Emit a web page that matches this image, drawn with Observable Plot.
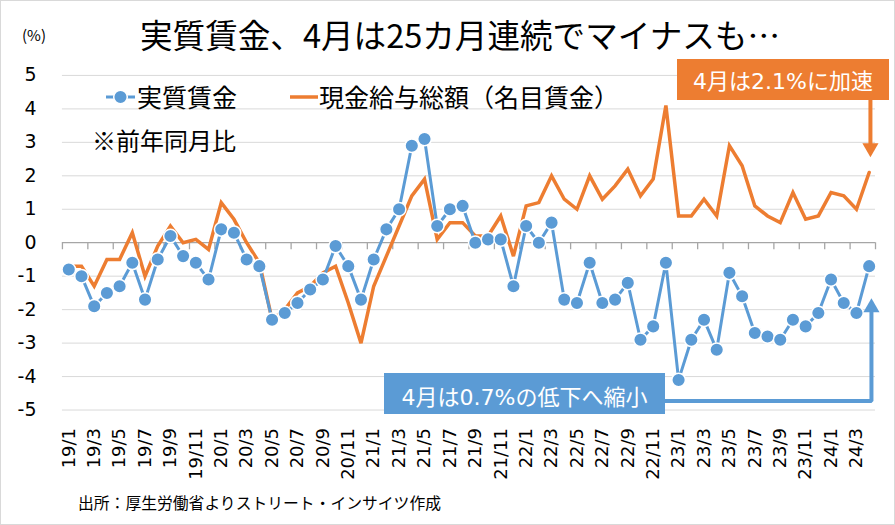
<!DOCTYPE html>
<html lang="ja">
<head>
<meta charset="utf-8">
<script src="https://cdn.jsdelivr.net/npm/d3@7"></script>
<script src="https://cdn.jsdelivr.net/npm/@observablehq/plot@0.6"></script>
<style>
  html, body { margin: 0; padding: 0; background: #fff; }
  #wrap { position: relative; width: 895px; height: 525px; box-sizing: border-box; border: 1px solid #d9d9d9; overflow: hidden; font-family: "Noto Sans CJK JP", sans-serif; color: #000; }
  #chart { position: absolute; left: -1px; top: -1px; }
  .abs { position: absolute; white-space: nowrap; line-height: 1; }
  .box { position: absolute; color: #fff; font-family: "DejaVu Sans", "Noto Sans CJK JP", sans-serif; font-size: 22px; text-align: center; box-sizing: border-box; line-height: 1; }
</style>
</head>
<body>
<div id="wrap">
  <div id="chart"></div>
  <div class="abs" style="left:21px;top:26px;font-size:15px;">(%)</div>
  <div class="abs" style="left:139px;top:17px;font-size:32.6px;">実質賃金、4月は25カ月連続でマイナスも…</div>
  <div class="abs" style="left:104px;top:83px;font-size:25px;display:flex;align-items:center;">
    <svg width="31" height="20" style="margin-right:1px"><line x1="1" y1="10" x2="30" y2="10" stroke="#5B9BD5" stroke-width="3"/><circle cx="15.5" cy="10" r="6.8" fill="#5B9BD5" stroke="#fff" stroke-width="1.5"/></svg>
    <span>実質賃金</span>
  </div>
  <div class="abs" style="left:289px;top:83px;font-size:25px;display:flex;align-items:center;">
    <svg width="29" height="20"><line x1="0" y1="10" x2="28" y2="10" stroke="#ED7D31" stroke-width="3.5"/></svg>
    <span>現金給与総額（名目賃金）</span>
  </div>
  <div class="abs" style="left:91px;top:127px;font-size:24px;">※前年同月比</div>
  <div class="abs" style="left:77px;top:494px;font-size:15.8px;">出所：厚生労働省よりストリート・インサイツ作成</div>
  <div class="box" style="left:676px;top:58px;width:212px;height:41px;background:#ED7D31;padding-top:12px;">4月は2.1%に加速</div>
  <div class="box" style="left:383px;top:372px;width:281px;height:41px;background:#5B9BD5;padding-top:14px;">4月は0.7%の低下へ縮小</div>
</div>
<script>
// ---- data ----
const months = [
  "19/1","19/2","19/3","19/4","19/5","19/6","19/7","19/8","19/9","19/10","19/11","19/12",
  "20/1","20/2","20/3","20/4","20/5","20/6","20/7","20/8","20/9","20/10","20/11","20/12",
  "21/1","21/2","21/3","21/4","21/5","21/6","21/7","21/8","21/9","21/10","21/11","21/12",
  "22/1","22/2","22/3","22/4","22/5","22/6","22/7","22/8","22/9","22/10","22/11","22/12",
  "23/1","23/2","23/3","23/4","23/5","23/6","23/7","23/8","23/9","23/10","23/11","23/12",
  "24/1","24/2","24/3","24/4"
];
// 実質賃金
const realWage = [
  -0.8,-1.0,-1.9,-1.5,-1.3,-0.6,-1.7,-0.5, 0.2,-0.4,-0.6,-1.1,
   0.4, 0.3,-0.5,-0.7,-2.3,-2.1,-1.8,-1.4,-1.1,-0.1,-0.7,-1.7,
  -0.5, 0.4, 1.0, 2.9, 3.1, 0.5, 1.0, 1.1, 0.0, 0.1, 0.1,-1.3,
   0.5, 0.0, 0.6,-1.7,-1.8,-0.6,-1.8,-1.7,-1.2,-2.9,-2.5,-0.6,
  -4.1,-2.9,-2.3,-3.2,-0.9,-1.6,-2.7,-2.8,-2.9,-2.3,-2.5,-2.1,
  -1.1,-1.8,-2.1,-0.7
];
// 現金給与総額（名目賃金）
const nominalWage = [
  -0.7,-0.7,-1.3,-0.5,-0.5, 0.3,-1.0,-0.1, 0.5, 0.0, 0.1,-0.2,
   1.2, 0.7, 0.0,-0.6,-2.3,-2.0,-1.5,-1.3,-0.9,-0.7,-1.8,-3.0,
  -1.3,-0.4, 0.5, 1.4, 1.9, 0.1, 0.6, 0.6, 0.2, 0.2, 0.8,-0.4,
   1.1, 1.2, 2.0, 1.3, 1.0, 2.0, 1.3, 1.7, 2.2, 1.4, 1.9, 4.1,
   0.8, 0.8, 1.3, 0.8, 2.9, 2.3, 1.1, 0.8, 0.6, 1.5, 0.7, 0.8,
   1.5, 1.4, 1.0, 2.1
];
const yTicks = [-5,-4,-3,-2,-1,0,1,2,3,4,5];

// annotation anchors (data coordinates)
const orangeArrow = {x: 63.1, yFrom: 4.28, yTip: 2.55};
const blueArrow = {xFrom: 46.8, x: 63.18, yLevel: -4.73, yTip: -1.66};

const BLUE = "#5B9BD5", ORANGE = "#ED7D31";
const data = months.map((m, i) => ({i, m, real: realWage[i], nominal: nominalWage[i]}));
const labelIdx = months.map((m, i) => i).filter(i => i % 2 === 0);
const boundaries = d3.range(0, months.length / 2 + 1).map(k => k * 2 - 0.5);

const chart = Plot.plot({
  width: 895,
  height: 525,
  marginLeft: 62,
  marginRight: 19,
  marginTop: 75,
  marginBottom: 115,
  x: {domain: [-0.5, months.length - 0.5], axis: null},
  y: {domain: [-5, 5], axis: null},
  style: {fontFamily: "'DejaVu Sans', 'Noto Sans CJK JP', sans-serif", background: "transparent", overflow: "visible", color: "#000"},
  marks: [
    Plot.ruleY(yTicks.filter(v => v !== 0), {stroke: "#d9d9d9", strokeWidth: 1}),
    Plot.ruleY([0], {stroke: "#a6a6a6", strokeWidth: 1.3}),
    Plot.ruleX(boundaries, {y1: 0, y2: -0.21, stroke: "#a6a6a6", strokeWidth: 1.3}),
    Plot.axisY({ticks: yTicks, tickSize: 0, tickPadding: 26, fontSize: 19, tickFormat: d => String(d)}),
    Plot.axisX({ticks: labelIdx, tickSize: 0, tickPadding: 18, tickRotate: -90, fontSize: 18, tickFormat: i => months[i]}),
    Plot.line(data, {x: "i", y: "nominal", stroke: ORANGE, strokeWidth: 3.5, strokeLinejoin: "miter", strokeMiterlimit: 3}),
    Plot.line(data, {x: "i", y: "real", stroke: BLUE, strokeWidth: 3}),
    Plot.dot(data, {x: "i", y: "real", r: 6.8, fill: BLUE, stroke: "#fff", strokeWidth: 1.5}),
    // orange arrow
    Plot.line([{x: orangeArrow.x, y: orangeArrow.yFrom}, {x: orangeArrow.x, y: orangeArrow.yTip + 0.3}], {x: "x", y: "y", stroke: ORANGE, strokeWidth: 4}),
    Plot.dot([{x: orangeArrow.x, y: orangeArrow.yTip}], {x: "x", y: "y", symbol: "triangle", r: 6, rotate: 180, dy: -9.4, fill: ORANGE, stroke: "none"}),
    // blue connector + arrow
    Plot.line([{x: blueArrow.xFrom, y: blueArrow.yLevel}, {x: blueArrow.x, y: blueArrow.yLevel}, {x: blueArrow.x, y: blueArrow.yTip - 0.3}], {x: "x", y: "y", stroke: BLUE, strokeWidth: 4, strokeLinejoin: "miter"}),
    Plot.dot([{x: blueArrow.x, y: blueArrow.yTip}], {x: "x", y: "y", symbol: "triangle", r: 6, dy: 9.4, fill: BLUE, stroke: "none"})
  ]
});
document.getElementById("chart").appendChild(chart);
</script>
</body>
</html>
